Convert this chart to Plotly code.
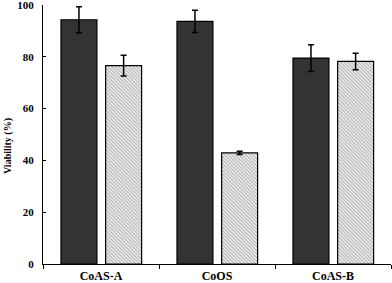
import plotly.graph_objects as go

categories = ["CoAS-A", "CoOS", "CoAS-B"]
dark_values = [94.3, 93.7, 79.5]
dark_err = [5.0, 4.3, 5.2]
hatched_values = [76.6, 42.9, 78.2]
hatched_err = [4.0, 0.6, 3.2]
y_ticks = [0, 20, 40, 60, 80, 100]

fam = "Liberation Serif, Times New Roman, serif"

fig = go.Figure()
fig.add_trace(go.Bar(
    x=categories, y=dark_values, width=0.31, offset=-0.345,
    error_y=dict(type="data", array=dark_err, color="black", thickness=1.5, width=3),
    marker=dict(color="#333333", line=dict(color="black", width=1.2)),
    showlegend=False,
))
fig.add_trace(go.Bar(
    x=categories, y=hatched_values, width=0.31, offset=0.04,
    error_y=dict(type="data", array=hatched_err, color="black", thickness=1.5, width=3),
    marker=dict(color="white", line=dict(color="black", width=1.2),
                pattern=dict(shape="\\", size=2.5, solidity=0.5, fgcolor="#555555", bgcolor="white")),
    showlegend=False,
))
fig.update_layout(
    width=392, height=283,
    margin=dict(l=43, r=1, t=5, b=19),
    paper_bgcolor="white", plot_bgcolor="white",
    barmode="overlay",
    font=dict(family=fam, size=11, color="black"),
)
fig.update_xaxes(
    automargin=False,
    showline=True, linecolor="black", linewidth=1,
    ticks="outside", tickson="boundaries", ticklen=4, tickcolor="black",
    tickfont=dict(family=fam, size=12, color="black", weight="bold"),
    ticklabelstandoff=1,
    showgrid=False, zeroline=False,
)
fig.update_yaxes(
    automargin=False,
    range=[0, 100], tickvals=y_ticks,
    showline=True, linecolor="black", linewidth=1,
    ticks="inside", ticklen=3, tickcolor="black",
    ticklabelstandoff=6, ticklabeloverflow="allow",
    tickfont=dict(family=fam, size=11, color="black", weight="bold"),
    showgrid=False, zeroline=False,
)
fig.add_annotation(
    text="Viability (%)", textangle=-90,
    xref="paper", yref="paper", x=-35/348, y=(264 - 146) / 259,
    xanchor="center", yanchor="middle", showarrow=False,
    font=dict(family=fam, size=10, color="black", weight="bold"),
)
fig.write_html("out.html", config={"displayModeBar": False},
               post_script="document.body.style.margin='0';document.body.style.overflow='hidden';")
